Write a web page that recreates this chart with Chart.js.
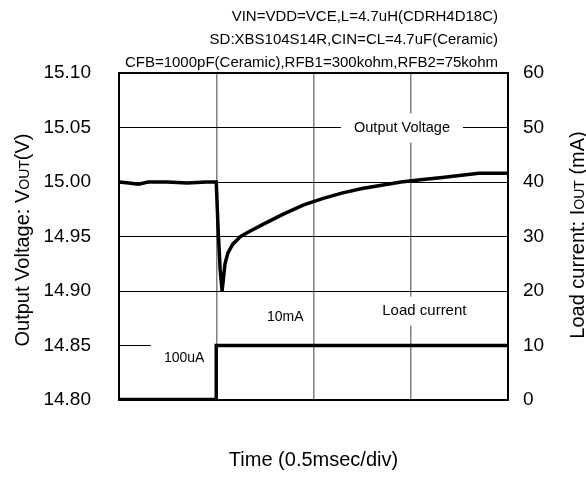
<!DOCTYPE html>
<html>
<head>
<meta charset="utf-8">
<script src="https://cdn.jsdelivr.net/npm/chart.js@4.4.1/dist/chart.umd.min.js"></script>
<style>
  html, body { margin: 0; padding: 0; background: #fff; }
  #wrap { width: 586px; height: 494px; }
</style>
</head>
<body>
<div id="wrap"><canvas id="chart"></canvas></div>
<script>
const FONT = "'Liberation Sans', Arial, sans-serif";

// time axis in divisions (0.5 msec/div)
const voutTime = [0, 0.1, 0.2, 0.3, 0.5, 0.7, 0.9, 1.0, 1.02, 1.04, 1.06, 1.09, 1.12, 1.17, 1.25,
  1.35, 1.5, 1.7, 1.9, 2.1, 2.3, 2.5, 2.7, 2.9, 3.1, 3.3, 3.5, 3.7, 3.85, 4.0];
const voutValues = [15.000, 14.999, 14.998, 15.000, 15.000, 14.999, 15.000, 15.000, 14.955, 14.920,
  14.900, 14.925, 14.935, 14.943, 14.950, 14.955, 14.962, 14.971, 14.979, 14.985, 14.990, 14.994,
  14.997, 15.000, 15.002, 15.004, 15.006, 15.008, 15.008, 15.008];

const ioutTime = [0, 1.0, 1.0, 4.0];
const ioutValues = [0.1, 0.1, 10, 10];   // mA

const vTickLabels = ["14.80", "14.85", "14.90", "14.95", "15.00", "15.05", "15.10"];

const titleLines = [
  "VIN=VDD=VCE,L=4.7uH(CDRH4D18C)",
  "SD:XBS104S14R,CIN=CL=4.7uF(Ceramic)",
  "CFB=1000pF(Ceramic),RFB1=300kohm,RFB2=75kohm"
];

// text notes inside the plot, placed in data units
const notes = [
  { text: "Output Voltage", x: 2.91, y: 15.05, size: 14.5, box: true },
  { text: "Load current", x: 3.14, y: 14.882, size: 15, box: true },
  { text: "10mA", x: 1.71, y: 14.876, size: 14, box: false },
  { text: "100uA", x: 0.67, y: 14.838, size: 14, box: true }
];

function drawParts(ctx, parts, cx, cy) {
  // rotated axis title with a smaller "OUT" part
  ctx.save();
  ctx.translate(cx, cy);
  ctx.rotate(-Math.PI / 2);
  let total = 0;
  parts.forEach(p => { ctx.font = p.size + "px " + FONT; total += ctx.measureText(p.text).width; });
  let x = -total / 2;
  ctx.fillStyle = "#000";
  ctx.textBaseline = "alphabetic";
  ctx.textAlign = "left";
  parts.forEach(p => {
    ctx.font = p.size + "px " + FONT;
    ctx.fillText(p.text, x, 7);
    x += ctx.measureText(p.text).width;
  });
  ctx.restore();
}

const extras = {
  id: "extras",
  beforeDatasetsDraw(chart) {
    const { ctx, chartArea: a, scales } = chart;
    ctx.save();
    // white boxes behind notes (cut the grid)
    notes.filter(n => n.box).forEach(n => {
      ctx.font = n.size + "px " + FONT;
      const w = ctx.measureText(n.text).width + 26;
      const px = scales.x.getPixelForValue(n.x);
      const py = scales.y.getPixelForValue(n.y);
      ctx.fillStyle = "#fff";
      ctx.fillRect(px - w / 2, py - 14, w, 29);
    });
    // top frame line
    ctx.strokeStyle = "#000";
    ctx.lineWidth = 2;
    ctx.beginPath();
    ctx.moveTo(a.left - 1, a.top);
    ctx.lineTo(a.right + 1, a.top);
    ctx.stroke();
    ctx.restore();
  },
  afterDraw(chart) {
    const { ctx, scales } = chart;
    ctx.save();
    ctx.fillStyle = "#000";
    ctx.textBaseline = "middle";
    notes.forEach(n => {
      ctx.font = n.size + "px " + FONT;
      ctx.textAlign = "center";
      ctx.fillText(n.text, scales.x.getPixelForValue(n.x), scales.y.getPixelForValue(n.y));
    });
    ctx.font = "15px " + FONT;
    ctx.textAlign = "right";
    titleLines.forEach((t, i) => ctx.fillText(t, 498, 17 + i * 23));
    ctx.textAlign = "center";
    ctx.font = "20px " + FONT;
    ctx.fillText("Time (0.5msec/div)", (chart.chartArea.left + chart.chartArea.right) / 2, 460);
    ctx.restore();
    drawParts(ctx, [{ text: "Output Voltage: V", size: 20 }, { text: "OUT", size: 14 }, { text: "(V)", size: 20 }], 22, 240);
    drawParts(ctx, [{ text: "Load current: I", size: 20 }, { text: "OUT", size: 14 }, { text: " (mA)", size: 20 }], 577, 235);
  }
};

new Chart(document.getElementById("chart"), {
  type: "line",
  data: {
    datasets: [
      {
        label: "Output Voltage",
        data: voutTime.map((t, i) => ({ x: t, y: voutValues[i] })),
        yAxisID: "y",
        borderColor: "#000",
        borderWidth: 3.5,
        pointRadius: 0,
        tension: 0
      },
      {
        label: "Load current",
        data: ioutTime.map((t, i) => ({ x: t, y: ioutValues[i] })),
        yAxisID: "y1",
        borderColor: "#000",
        borderWidth: 3.5,
        pointRadius: 0,
        tension: 0
      }
    ]
  },
  options: {
    responsive: true,
    maintainAspectRatio: false,
    animation: false,
    layout: { padding: { top: 73, left: 0, right: 0, bottom: 0 } },
    plugins: { legend: { display: false }, tooltip: { enabled: false } },
    scales: {
      x: {
        type: "linear",
        min: 0,
        max: 4,
        ticks: { display: false, stepSize: 1 },
        grid: { color: "#808080", lineWidth: 1.5, drawTicks: false },
        border: { display: true, color: "#000", width: 2 },
        afterFit: s => { s.height = 94; }
      },
      y: {
        position: "left",
        min: 14.8,
        max: 15.1,
        ticks: {
          stepSize: 0.05,
          padding: 28,
          color: "#000",
          font: { family: FONT, size: 19 },
          callback: (v, i) => vTickLabels[i]
        },
        grid: { color: "#000", lineWidth: 1, drawTicks: false },
        border: { display: true, color: "#000", width: 2 },
        afterFit: s => { s.width = 119; }
      },
      y1: {
        position: "right",
        min: 0,
        max: 60,
        ticks: {
          stepSize: 10,
          padding: 15,
          color: "#000",
          font: { family: FONT, size: 19 }
        },
        grid: { display: false, drawTicks: false },
        border: { display: true, color: "#000", width: 2 },
        afterFit: s => { s.width = 78; }
      }
    }
  },
  plugins: [extras]
});
</script>
</body>
</html>
